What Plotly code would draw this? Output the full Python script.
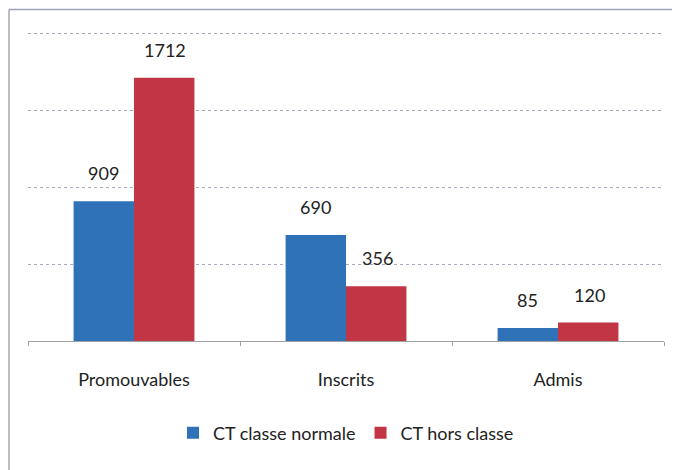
import plotly.graph_objects as go

categories = ["Promouvables", "Inscrits", "Admis"]
series_names = ["CT classe normale", "CT hors classe"]
normale = [909, 690, 85]
hors = [1712, 356, 120]
colors = ["#2f72b8", "#c23544"]

FONT = "Lato, Liberation Sans, sans-serif"

fig = go.Figure()
for name, vals, col in zip(series_names, [normale, hors], colors):
    fig.add_trace(go.Bar(x=categories, y=vals, name=name, marker_color=col,
                         marker_line_width=0))

# value labels
for vals, shift in zip([normale, hors], [-31, 31]):
    for c, v in zip(categories, vals):
        fig.add_annotation(x=c, y=v, text=str(v), showarrow=False,
                           xshift=shift, yshift=15, yanchor="bottom",
                           font=dict(size=18, color="#222", family=FONT))

# chart border (left and top)
fig.add_shape(type="line", xref="paper", yref="paper",
              x0=-0.0299, x1=1.05, y0=1.0625, y1=1.0625,
              line=dict(color="#9ca3b8", width=1.5))
fig.add_shape(type="line", xref="paper", yref="paper",
              x0=-0.0299, x1=-0.0299, y0=1.0625, y1=-0.45,
              line=dict(color="#a8a8a8", width=1.5))

fig.update_layout(
    width=680, height=470,
    margin=dict(l=20, r=24, t=21, b=137),
    paper_bgcolor="white", plot_bgcolor="white",
    barmode="group", bargap=0.43, bargroupgap=0,
    font=dict(family=FONT, size=18, color="#222"),
    showlegend=True,
    legend=dict(orientation="h", x=0.5, xanchor="center", y=-0.295,
                yanchor="middle", font=dict(size=18, family=FONT),
                itemwidth=30, tracegroupgap=0),
    xaxis=dict(showline=True, linecolor="#a0a0a0", linewidth=1,
               ticks="outside", tickson="boundaries", ticklen=4,
               tickcolor="#a0a0a0", ticklabelstandoff=22,
               tickfont=dict(size=18, family=FONT, color="#222"),
               showgrid=False),
    yaxis=dict(range=[0, 2030], dtick=500, showticklabels=False,
               showgrid=True, gridcolor="#a8aabb", gridwidth=1,
               griddash="dot", zeroline=False, showline=False),
)

fig.write_html("out.html")
